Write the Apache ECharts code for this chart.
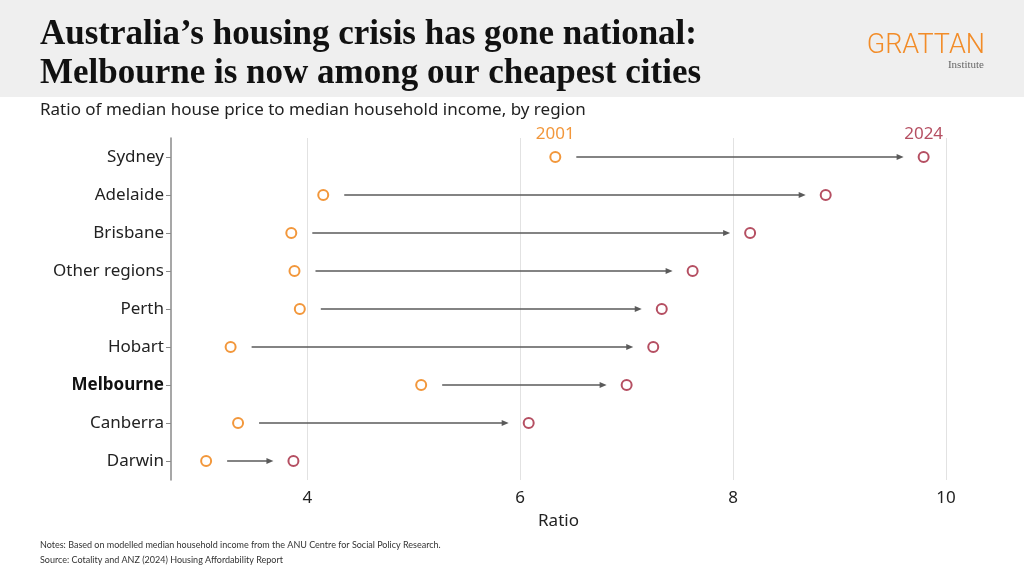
<!DOCTYPE html>
<html><head><meta charset="utf-8">
<script src="https://cdn.jsdelivr.net/npm/echarts@6/dist/echarts.min.js"></script>
<style>html,body{margin:0;padding:0;background:#fff}#c{width:1024px;height:576px}</style>
</head><body><div id="c"></div>
<script>
var regions = ['Sydney','Adelaide','Brisbane','Other regions','Perth','Hobart','Melbourne','Canberra','Darwin'];
var ratio2001 = [6.33, 4.15, 3.85, 3.88, 3.93, 3.28, 5.07, 3.35, 3.05];
var ratio2024 = [9.79, 8.87, 8.16, 7.62, 7.33, 7.25, 7.00, 6.08, 3.87];
var xTicks = [4, 6, 8, 10];

var ORANGE = '#EF7D0A', RED = '#A2233B';
var chart = echarts.init(document.getElementById('c'), null, {renderer:'canvas'});
var sans = 'Noto Sans';

var arrowData = regions.map(function(r,i){ return [ratio2001[i], ratio2024[i], i]; });
var s2001 = regions.map(function(r,i){ return [ratio2001[i], i]; });
var s2024 = regions.map(function(r,i){ return [ratio2024[i], i]; });

chart.setOption({
  animation:false,
  grid:{left:171, right:78, top:138, bottom:96, containLabel:false},
  xAxis:{
    type:'value', min:2.72, max:10,
    axisLine:{show:false}, axisTick:{show:false, customValues:xTicks},
    axisLabel:{customValues:xTicks, fontFamily:sans, fontSize:17, color:'#222', margin:10},
    splitLine:{show:true, lineStyle:{color:'#e2e2e2', width:1}},
    name:'Ratio', nameLocation:'middle', nameGap:33,
    nameTextStyle:{fontFamily:sans, fontSize:17, color:'#222'}
  },
  yAxis:{
    type:'category', data:regions, inverse:true,
    axisLine:{show:true, lineStyle:{color:'#8a8a8a', width:1.5}},
    axisTick:{show:true, alignWithLabel:true, length:5, lineStyle:{color:'#8a8a8a'}},
    axisLabel:{fontFamily:sans, fontSize:17, color:'#222', margin:7,
      formatter:function(v){ return v==='Melbourne' ? '{b|'+v+'}' : v; },
      rich:{b:{fontFamily:sans, fontSize:17, fontWeight:'bold', color:'#111'}}},
    splitLine:{show:false}
  },
  series:[
    {type:'custom', data:arrowData, encode:{x:[0,1], y:2}, z:1,
     renderItem:function(params, api){
       var p1 = api.coord([api.value(0), api.value(2)]);
       var p2 = api.coord([api.value(1), api.value(2)]);
       var x1 = p1[0]+21, x2 = p2[0]-20, y = p1[1];
       return {type:'group', children:[
         {type:'line', shape:{x1:x1,y1:y,x2:x2-5,y2:y}, style:{stroke:'#5a5a5a', lineWidth:1.3}},
         {type:'polygon', shape:{points:[[x2,y],[x2-7,y-3],[x2-7,y+3]]}, style:{fill:'#5a5a5a'}}
       ]};
     }},
    {type:'scatter', name:'2001', data:s2001, symbol:'emptyCircle', symbolSize:10, z:3,
     itemStyle:{color:ORANGE, borderColor:ORANGE, borderWidth:3},
     label:{show:true, position:'top', distance:8, fontFamily:sans, fontSize:17, color:ORANGE,
       formatter:function(p){ return p.dataIndex===0 ? '2001' : ''; }}},
    {type:'scatter', name:'2024', data:s2024, symbol:'emptyCircle', symbolSize:10, z:3,
     itemStyle:{color:RED, borderColor:RED, borderWidth:3},
     label:{show:true, position:'top', distance:8, fontFamily:sans, fontSize:17, color:RED,
       formatter:function(p){ return p.dataIndex===0 ? '2024' : ''; }}}
  ],
  graphic:[
    {type:'rect', shape:{x:0,y:0,width:1024,height:97}, style:{fill:'#efefef'}, z:-10, silent:true},
    {type:'text', left:40, top:17, style:{text:"Australia’s housing crisis has gone national:", fontFamily:'Liberation Serif', fontWeight:'bold', fontSize:35, fill:'#111'}},
    {type:'text', left:40, top:56, style:{text:'Melbourne is now among our cheapest cities', fontFamily:'Liberation Serif', fontWeight:'bold', fontSize:35, fill:'#111'}},
    {type:'text', right:39, top:33, style:{text:'GRATTAN', fontFamily:'Roboto', fontWeight:300, fontSize:27, fill:'#F28C28'}},
    {type:'text', right:40, top:60, style:{text:'Institute', fontFamily:'Liberation Serif', fontSize:11, fill:'#666'}},
    {type:'text', left:40, top:102, style:{text:'Ratio of median house price to median household income, by region', fontFamily:sans, fontSize:17, fill:'#222'}},
    {type:'text', left:40, top:541, style:{text:'Notes: Based on modelled median household income from the ANU Centre for Social Policy Research.', fontFamily:'Lato', fontSize:9, fill:'#333'}},
    {type:'text', left:40, top:556, style:{text:'Source: Cotality and ANZ (2024) Housing Affordability Report', fontFamily:'Lato', fontSize:9, fill:'#333'}}
  ]
});
</script></body></html>
